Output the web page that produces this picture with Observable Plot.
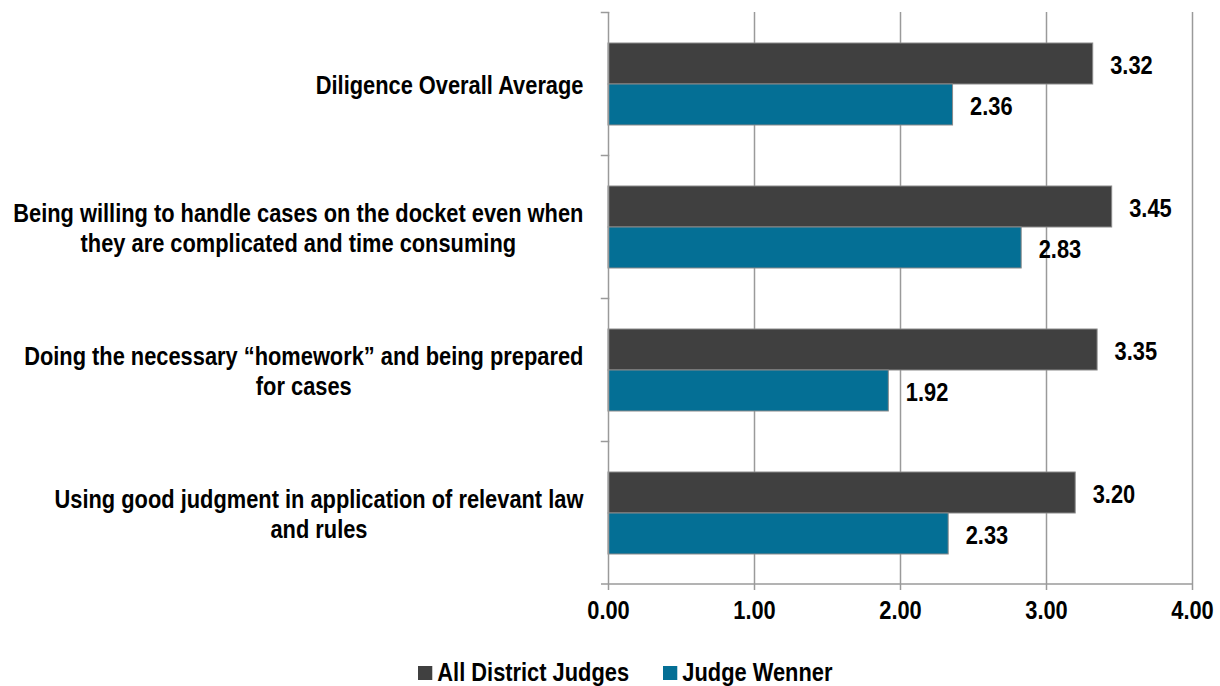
<!DOCTYPE html>
<html>
<head>
<meta charset="utf-8">
<script src="https://cdn.jsdelivr.net/npm/d3@7"></script>
<script src="https://cdn.jsdelivr.net/npm/@observablehq/plot@0.6"></script>
<style>
  html, body { margin: 0; padding: 0; background: #fff; }
  body { width: 1220px; height: 686px; overflow: hidden; font-family: "Liberation Sans", Arial, sans-serif; font-weight: bold; }
  #legend { position: relative; height: 46px; font-size: 26px; color: #000; }
  #legend .item { position: absolute; top: 17px; display: flex; align-items: center; transform-origin: 0 50%; transform: scaleX(0.84); white-space: nowrap; }
  #legend .sw { width: 17px; height: 14px; margin-right: 6px; }
</style>
</head>
<body>
<div id="chart"></div>
<div id="legend"></div>
<script>
const categories = [
  "Diligence Overall Average",
  "Being willing to handle cases on the docket even when\nthey are complicated and time consuming",
  "Doing the necessary \u201chomework\u201d and being prepared\nfor cases",
  "Using good judgment in application of relevant law\nand rules"
];
const seriesNames = ["All District Judges", "Judge Wenner"];
const allDistrictJudges = [3.32, 3.45, 3.35, 3.20];
const judgeWenner = [2.36, 2.83, 1.92, 2.33];
const xTicks = [0, 1, 2, 3, 4];
const colors = ["#404040", "#046f95"];

const data = [];
categories.forEach((c, i) => {
  data.push({category: c, series: seriesNames[0], value: allDistrictJudges[i]});
  data.push({category: c, series: seriesNames[1], value: judgeWenner[i]});
});

const FONT = '"Liberation Sans", Arial, sans-serif';
const NARROW = 0.84;
const plotWidth = 1220 - 608 - 28;

const chart = Plot.plot({
  width: 1220,
  height: 640,
  marginLeft: 608,
  marginRight: 28,
  marginTop: 12,
  marginBottom: 56,
  style: {fontFamily: FONT, fontSize: "26px", fontWeight: "bold", color: "#000", background: "#fff"},
  x: {domain: [0, 4], ticks: xTicks, tickFormat: d3.format(".2f")},
  y: {domain: seriesNames, paddingInner: 0, paddingOuter: 0.72, axis: null},
  fy: {domain: categories, padding: 0, axis: null},
  color: {domain: seriesNames, range: colors},
  marks: [
    Plot.gridX(xTicks.slice(1), {stroke: "#9a9a9a", strokeOpacity: 1, strokeWidth: 1.5}),
    Plot.frame({anchor: "top", stroke: "#9a9a9a", strokeWidth: 1.5, insetLeft: -7, insetRight: plotWidth}),
    Plot.barX(data, {fy: "category", y: "series", x: "value", fill: "series", stroke: "#8a8a8a", strokeWidth: 1}),
    Plot.text(data, {fy: "category", y: "series", x: "value", text: d => d.value.toFixed(2), textAnchor: "start", dx: 17, dy: 2, fill: "#000", fontSize: 26, fontWeight: "bold"}),
    Plot.text(categories, {fy: d => d, text: d => d, frameAnchor: "left", textAnchor: "end", dx: -25, lineHeight: 1.15, fill: "#000", fontSize: 26, fontWeight: "bold"}),
    Plot.ruleX([0], {stroke: "#9a9a9a", strokeWidth: 1.5}),
    Plot.axisX({ticks: xTicks, tickFormat: d3.format(".2f"), tickSize: 6, tickPadding: 10, stroke: "#9a9a9a", strokeWidth: 1.5, fontSize: 26, fontWeight: "bold", fill: "#000", label: null})
  ]
});

document.getElementById("chart").appendChild(chart);

// bottom axis line
d3.select(chart).append("line")
  .attr("x1", 601).attr("x2", 1192)
  .attr("y1", 584).attr("y2", 584)
  .attr("stroke", "#9a9a9a").attr("stroke-width", 1.5);

// narrow the bold face (Arial Narrow look) and centre multi-line category labels
chart.querySelectorAll("text").forEach(t => {
  const spans = t.querySelectorAll("tspan");
  if (spans.length > 1) {
    let w = 0;
    spans.forEach(s => { w = Math.max(w, s.getComputedTextLength()); });
    t.setAttribute("text-anchor", "middle");
    spans.forEach(s => s.setAttribute("x", -w / 2));
  }
  const tr = t.getAttribute("transform") || "";
  t.setAttribute("transform", tr + ` scale(${NARROW},1)`);
});

// legend
const legend = document.getElementById("legend");
const legendLeft = [418, 663];
seriesNames.forEach((name, i) => {
  const item = document.createElement("div");
  item.className = "item";
  item.style.left = legendLeft[i] + "px";
  const sw = document.createElement("div");
  sw.className = "sw";
  sw.style.background = colors[i];
  const label = document.createElement("span");
  label.textContent = name;
  item.appendChild(sw);
  item.appendChild(label);
  legend.appendChild(item);
});
</script>
</body>
</html>
